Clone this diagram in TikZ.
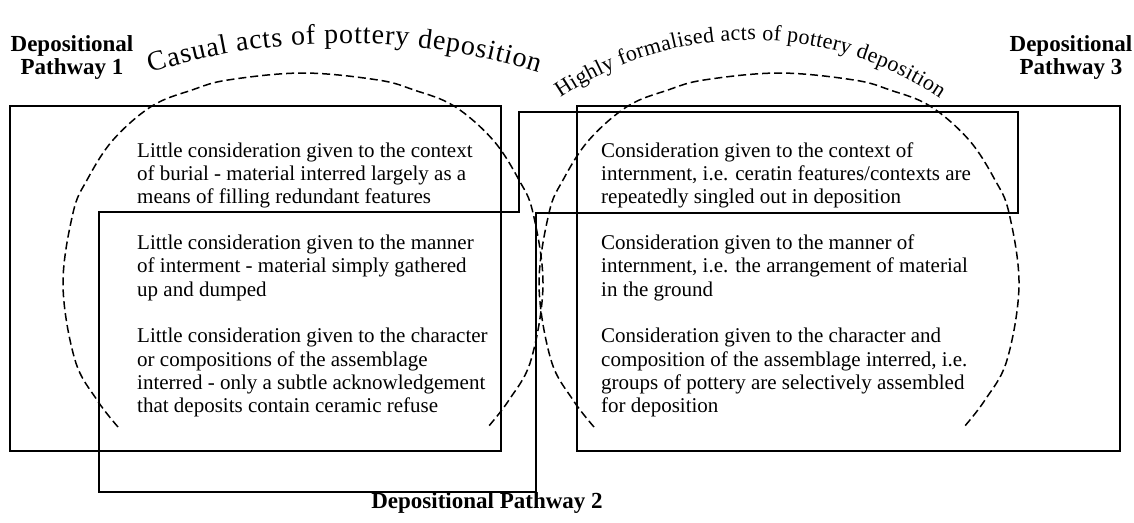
\documentclass[tikz,border=0pt]{standalone}
\usepackage{fontspec}
\setmainfont{Liberation Serif}
\usetikzlibrary{decorations.text}
\newcommand{\bodyfont}{\fontsize{21}{23.3}\selectfont}
\newcommand{\labfont}{\fontsize{23}{23}\selectfont\bfseries}
\newcommand{\arcfontA}{\fontsize{28}{28}\selectfont}
\newcommand{\arcfontB}{\fontsize{22}{22}\selectfont}
\begin{document}
\begin{tikzpicture}[x=1pt,y=-1pt,
  pathbox/.style={draw, line width=1.4pt},
  zone/.style={draw, line width=1.5pt, dash pattern=on 8pt off 4pt},
  body/.style={font=\bodyfont, align=left, anchor=base west, inner sep=0pt},
  plabel/.style={font=\labfont, align=center, inner sep=0pt},
  arctext/.style 2 args={decorate, decoration={text along path, text align={fit to path}, text={|#1|#2}}}]
\path[use as bounding box, fill=white] (0,0) rectangle (1134,522);

% pathway outlines
\draw[pathbox] (10,106) rectangle (501,451);
\draw[pathbox] (99,212) -- (519,212) -- (519,112) -- (1018,112) -- (1018,213)
  -- (536,213) -- (536,492) -- (99,492) -- cycle;
\draw[pathbox] (577,106) rectangle (1120,451);

% dashed zones
\draw[zone] plot[smooth, tension=0.6] coordinates {(118,427) (97,400) (75,360) (63,285)
  (73,213) (87,180) (113,140) (152,106) (192,90) (228,80) (303,73) (378,80) (414,90)
  (454,106) (493,140) (519,180) (533,213) (543,285) (531,360) (509,400) (488,427)};
\draw[zone] plot[smooth, tension=0.6] coordinates {(594,427) (573,400) (551,360) (539,285)
  (549,213) (563,180) (589,140) (628,106) (668,90) (704,80) (779,73) (854,80) (890,90)
  (930,106) (969,140) (995,180) (1009,213) (1019,285) (1007,360) (985,400) (964,427)};

% arc titles
\path[arctext={\arcfontA}{Casual acts of pottery deposition}] (344.5,688) ++(-107.5:645) arc[start angle=-107.5, end angle=-72.5, radius=645];
\path[arctext={\arcfontB}{Highly formalised acts of pottery deposition}] (750,379) ++(-124:339) arc[start angle=-124, end angle=-56, radius=339];

% labels
\node[plabel] (p1) at (72,58) {Depositional\\Pathway 1};
\node[plabel] (p3) at (1071,58) {Depositional\\Pathway 3};
\node[plabel, anchor=base] (p2) at (487,508) {Depositional Pathway 2};

% texts (base anchor = last line)
\node[body] (l1) at (137,203.6) {Little consideration given to the context\\of burial - material interred largely as a\\means of filling redundant features};
\node[body] (l2) at (137,296.2) {Little consideration given to the manner\\of interment - material simply gathered\\up and dumped};
\node[body] (l3) at (137,412.7) {Little consideration given to the character\\or compositions of the assemblage\\interred - only a subtle acknowledgement\\that deposits contain ceramic refuse};
\node[body] (r1) at (601,203.6) {Consideration given to the context of\\internment, i.e. ceratin features/contexts are\\repeatedly singled out in deposition};
\node[body] (r2) at (601,296.2) {Consideration given to the manner of\\internment, i.e. the arrangement of material\\in the ground};
\node[body] (r3) at (601,412.7) {Consideration given to the character and\\composition of the assemblage interred, i.e.\\groups of pottery are selectively assembled\\for deposition};
\end{tikzpicture}
\end{document}
